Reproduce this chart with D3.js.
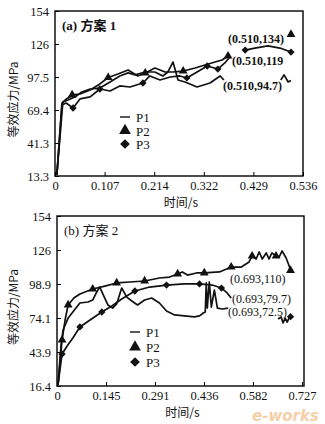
<!DOCTYPE html>
<html><head><meta charset="utf-8">
<script src="https://cdn.jsdelivr.net/npm/d3@7"></script>
<style>body{margin:0;background:#fff}svg{display:block}</style>
</head><body>
<svg id="c" width="325" height="424"></svg>
<script>
// ---------- Data: chart (a) 方案 1 ----------
const aXTicks = ["0","0.107","0.214","0.322","0.429","0.536"];
const aYTicks = ["13.3","41.3","69.4","97.5","126","154"];
const aP1t = [0.004,0.017,0.028,0.043,0.058,0.076,0.097,0.119,0.140,0.158,0.173,0.195,0.216,0.233,0.244,0.255,0.266,0.281,0.307,0.335,0.357,0.365,null,0.488,0.495,0.504,0.510];
const aP1v = [14.2,76.4,78.1,80.7,84.9,87.5,88.3,93.5,98.6,101.2,99.5,102.0,102.0,98.6,102.0,110.5,95.2,93.5,89.2,92.6,98.6,95.2,null,95.2,99.5,93.5,94.7];
const aP2t = [0.004,0.015,0.022,0.037,0.054,0.076,0.097,0.115,0.136,0.158,0.179,0.195,0.216,0.238,0.255,0.277,0.303,0.324,0.346,0.361,0.374,null,0.510];
const aP2v = [14.2,75.5,78.1,82.4,83.2,86.6,91.8,97.3,100.3,103.7,98.6,101.1,105.4,102.0,102.0,102.8,105.4,108.0,110.5,112.2,115.6,null,134];
const aP2m = [3,7,11,15,20,22];
const aP3t = [0.004,0.015,0.024,0.039,0.054,0.076,0.097,0.119,0.140,0.162,0.190,0.205,0.227,0.249,0.270,0.285,0.307,0.329,0.352,0.367,0.378,null,0.411,0.432,0.460,0.486,0.510];
const aP3v = [14.2,73.8,75.5,71.3,79.0,80.7,87.5,85.8,90.1,89.2,92.6,98.6,95.2,97.7,98.6,96.9,102.0,107.1,104.5,109.7,114.8,null,120.7,122.4,124.2,122.4,119];
const aP3m = [3,6,10,15,17,18,22,26];
const aNotes = ["(0.510,134)","(0.510,119","(0.510,94.7)"];

// ---------- Data: chart (b) 方案 2 ----------
const bXTicks = ["0","0.145","0.291","0.436","0.582","0.727"];
const bYTicks = ["16.4","43.9","74.1","98.9","126","154"];
const bP1t = [0.003,0.012,0.018,0.033,0.047,0.068,0.092,0.106,0.118,0.127,0.139,0.151,0.165,0.177,0.192,0.207,0.222,0.239,0.260,0.281,0.304,0.325,0.349,0.378,0.408,0.423,0.434,0.440,0.443,0.446,0.452,0.458,0.467,0.476,0.491,0.508,null,0.656,0.665,0.671,0.677,0.683,0.692];
const bP1v = [17.2,49.6,61.7,71.4,76.3,83.6,84.4,86.0,92.5,96.5,89.2,82.0,79.5,82.8,95.7,88.4,85.2,82.0,86.0,87.6,83.6,77.1,73.9,73.1,72.3,73.1,75.5,76.3,99.8,79.5,100.6,80.3,94.1,79.5,78.7,79.5,null,70.6,72.3,67.4,71.4,68.2,73.1];
const bP2t = [0.003,0.015,0.024,0.033,0.050,0.068,0.106,0.142,0.177,0.216,0.260,0.304,0.334,0.358,0.372,0.387,0.414,0.437,0.482,0.517,0.547,0.570,0.579,0.591,0.600,0.609,0.621,0.629,0.638,0.650,0.659,0.668,0.680,0.689,0.693];
const bP2v = [17.2,53.6,69.8,82.0,87.6,90.9,94.9,97.3,99.8,100.6,101.4,103.8,104.6,107.1,108.7,106.2,107.9,107.9,108.7,112.7,112.7,116.8,121.6,119.2,124.9,119.2,124.1,119.2,124.1,121.6,120.8,125.7,120.0,113.5,110];
const bP2m = [1,3,6,8,10,13,17,19,22,29,34];
const bP3t = [0.003,0.015,0.030,0.047,0.068,0.098,0.133,0.163,0.192,0.231,0.275,0.325,0.378,0.423,0.461,0.488,0.505,0.517,null,0.693];
const bP3v = [17.2,42.3,48.8,55.3,64.2,69.8,76.3,81.2,86.8,93.3,96.5,98.1,99.0,99.0,98.1,95.7,91.7,87.6,null,72.5];
const bP3m = [1,4,6,9,11,13,15,19];
const bNotes = ["(0.693,110)","(0.693,79.7)","(0.693,72.5)"];

const seriesNames = ["P1","P2","P3"];

const svg = d3.select("#c");
const SERIF = "'Liberation Serif','DejaVu Serif',serif";
const CJK = "'Noto Sans CJK SC',sans-serif";

function zip(ts, vs){ return ts.map((t,i)=>({t, v: vs[i]})); }

function panel(cfg){
  const g = svg.append("g");
  const x = d3.scaleLinear().domain(cfg.xDom).range(cfg.xRange);
  const y = d3.scaleLinear().domain(cfg.yDom).range(cfg.yRange);
  const [x0,x1] = cfg.xRange, [y0,y1] = cfg.yRange;

  const xVals = d3.range(6).map(i => i*cfg.xMax/5);
  const yVals = d3.range(6).map(i => cfg.yDom[0] + i*(cfg.yDom[1]-cfg.yDom[0])/5);

  const xAxis = d3.axisBottom(x).tickValues(xVals).tickFormat((d,i)=>cfg.xTicks[i]).tickSizeInner(-4).tickSizeOuter(0).tickPadding(5);
  const yAxis = d3.axisLeft(y).tickValues(yVals).tickFormat((d,i)=>cfg.yTicks[i]).tickSizeInner(-4).tickSizeOuter(0).tickPadding(6);
  const gx = g.append("g").attr("transform",`translate(0,${y0})`).call(xAxis);
  const gy = g.append("g").attr("transform",`translate(${x0},0)`).call(yAxis);
  [gx,gy].forEach(a=>{
    a.select(".domain").remove();
    a.selectAll(".tick line").attr("stroke","#000").attr("stroke-width",1);
    a.selectAll(".tick text").attr("fill","#111").style("font-family",SERIF).style("font-size","12.5px");
  });
  // frame
  g.append("rect").attr("x",x0).attr("y",y1).attr("width",x1-x0).attr("height",y0-y1)
    .attr("fill","none").attr("stroke","#000").attr("stroke-width",1.4);

  const line = d3.line().defined(d=>d.v!==null && d.t!==null).x(d=>x(d.t)).y(d=>y(d.v));
  const tri = d3.symbol().type(d3.symbolTriangle).size(34);
  const dia = d3.symbol().type(d3.symbolDiamond2).size(34);

  cfg.series.forEach(s=>{
    const data = zip(s.t, s.v);
    g.append("path").datum(data).attr("d",line).attr("fill","none")
      .attr("stroke","#111").attr("stroke-width",1.7).attr("stroke-linejoin","round");
    if (s.m) {
      g.selectAll(null).data(s.m.map(i=>data[i])).join("path")
        .attr("d", s.sym==="tri" ? tri : dia)
        .attr("transform", d=>`translate(${x(d.t)},${y(d.v)})`).attr("fill","#111");
    }
  });

  // title
  g.append("text").attr("x",x0+7).attr("y",y1+19).attr("fill","#111")
    .style("font-weight",cfg.titleBold?"bold":"normal")
    .style("font-family",SERIF).style("font-size","13px")
    .selectAll("tspan").data(cfg.title).join("tspan")
    .style("font-family",(d,i)=> i===1 ? CJK : SERIF)
    .text(d=>d);

  // annotations
  cfg.notes.forEach((n,i)=>{
    g.append("text").attr("x",cfg.notePos[i][0]).attr("y",cfg.notePos[i][1])
      .attr("fill","#111").style("font-family",SERIF).style("font-size","12px")
      .style("font-weight",cfg.titleBold?"bold":"normal").text(n);
  });

  // legend
  const lg = g.append("g").attr("transform",`translate(${cfg.legend[0]},${cfg.legend[1]})`);
  seriesNames.forEach((nm,i)=>{
    const yy = i*cfg.legendGap;
    if (i===0) lg.append("line").attr("x1",0).attr("x2",10).attr("y1",yy).attr("y2",yy).attr("stroke","#111").attr("stroke-width",1.4);
    else lg.append("path").attr("d", i===1 ? d3.symbol().type(d3.symbolTriangle).size(60)() : d3.symbol().type(d3.symbolDiamond2).size(60)())
      .attr("transform",`translate(5,${yy})`).attr("fill","#111");
    lg.append("text").attr("x",16).attr("y",yy+5).attr("fill","#111").style("font-family",SERIF).style("font-size","13px").text(nm);
  });

  // axis titles
  g.append("text").attr("x",(x0+x1)/2+2).attr("y",y0+31).attr("text-anchor","middle")
    .attr("fill","#111").style("font-family",CJK).style("font-size","12px").text("时间/s");
  g.append("text").attr("transform",`translate(18,${(y0+y1)/2+6}) rotate(-90)`).attr("text-anchor","middle")
    .attr("fill","#111").style("font-family",CJK).style("font-size","12px").text("等效应力/MPa");
}

panel({
  xDom:[0,0.536], xMax:0.536, xRange:[55,303], yDom:[13.3,154], yRange:[176,11],
  xTicks:aXTicks, yTicks:aYTicks, title:["(a) ","方案"," 1"], titleBold:true,
  series:[{t:aP1t,v:aP1v},{t:aP2t,v:aP2v,m:aP2m,sym:"tri"},{t:aP3t,v:aP3v,m:aP3m,sym:"dia"}],
  notes:aNotes, notePos:[[228,43],[232,65],[223,90]],
  legend:[120,117], legendGap:13.5
});
panel({
  xDom:[0,0.733], xMax:0.727, xRange:[57,304], yDom:[16.4,154], yRange:[386,216],
  xTicks:bXTicks, yTicks:bYTicks, title:["(b) ","方案"," 2"], titleBold:false,
  series:[{t:bP1t,v:bP1v},{t:bP2t,v:bP2v,m:bP2m,sym:"tri"},{t:bP3t,v:bP3v,m:bP3m,sym:"dia"}],
  notes:bNotes, notePos:[[230,283],[232,303],[228,316]],
  legend:[130,332], legendGap:15
});

// watermark
svg.append("text").attr("x",252).attr("y",421).attr("fill","#f0a860").attr("opacity",0.55)
  .style("font-family","'DejaVu Sans',sans-serif").style("font-style","italic").style("font-weight","bold")
  .style("font-size","15px").text("e-works");
</script>
</body></html>
